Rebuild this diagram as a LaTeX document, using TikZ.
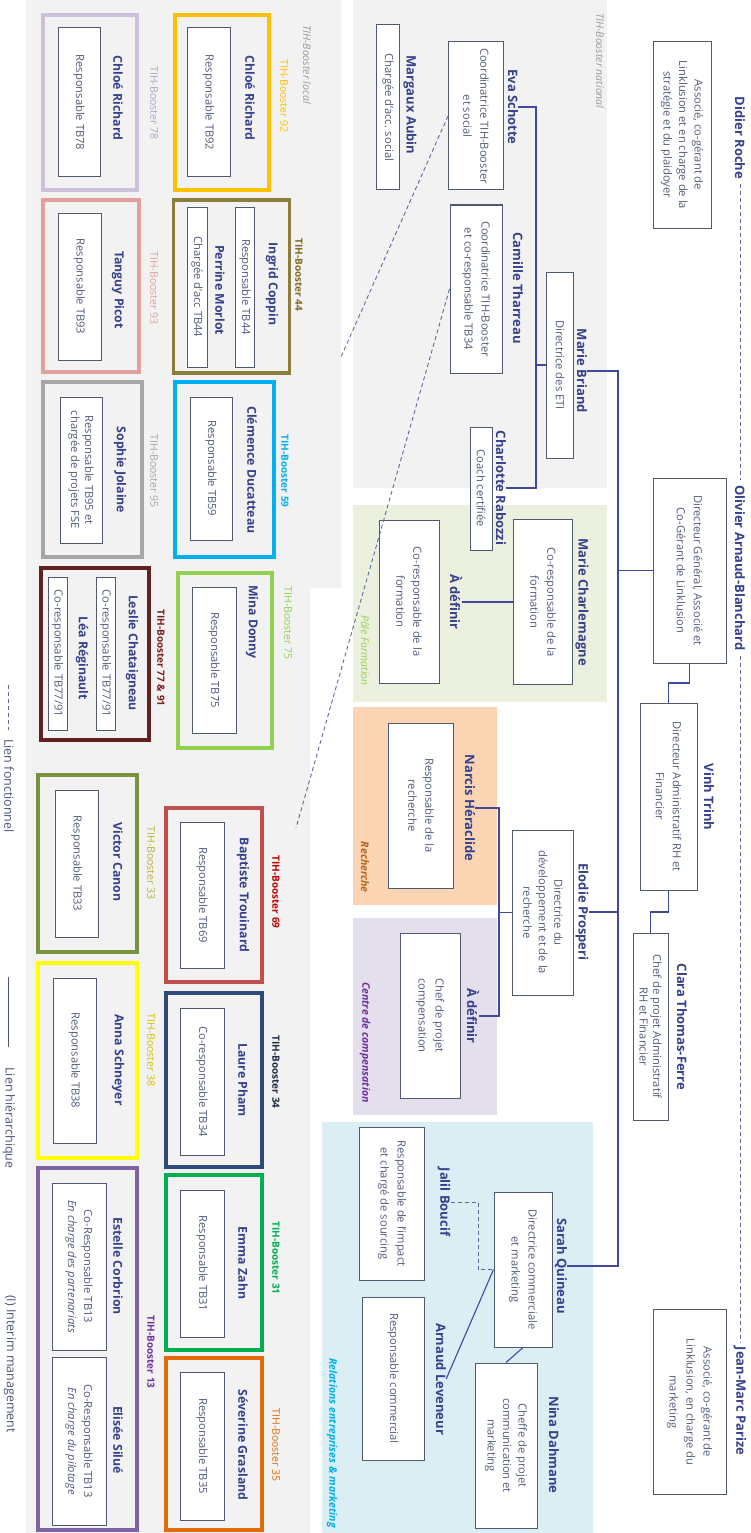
\documentclass[tikz,border=0pt]{standalone}
\usepackage{fontspec}
\setmainfont{Open Sans}
\definecolor{namec}{HTML}{35418C}
\definecolor{bodyc}{HTML}{525C7C}
\definecolor{boxc}{HTML}{4F5A70}
\definecolor{linec}{HTML}{3F4A9E}
\definecolor{dashc}{HTML}{5A6A9E}
\definecolor{legc}{HTML}{4A5578}
\definecolor{greyl}{HTML}{9A9A9A}
\definecolor{bggrey}{HTML}{F2F2F2}
\definecolor{bggreen}{HTML}{EBF1DE}
\definecolor{bgorange}{HTML}{FBD4B4}
\definecolor{bglav}{HTML}{E4DFEC}
\definecolor{bgblue}{HTML}{DAEEF3}
\definecolor{c92}{HTML}{FFC000}
\definecolor{c44}{HTML}{8B7D3A}
\definecolor{l44}{HTML}{7F6A1E}
\definecolor{c59}{HTML}{00B0F0}
\definecolor{c75}{HTML}{92D050}
\definecolor{c78}{HTML}{CCC0DA}
\definecolor{l78}{HTML}{B3A2C7}
\definecolor{c93}{HTML}{E0A09C}
\definecolor{c95}{HTML}{A6A6A6}
\definecolor{c7791}{HTML}{5E2222}
\definecolor{l7791}{HTML}{7A2020}
\definecolor{c69}{HTML}{C0504D}
\definecolor{l69}{HTML}{C00000}
\definecolor{c34}{HTML}{2F4B7C}
\definecolor{l34}{HTML}{1F2A44}
\definecolor{c31}{HTML}{00B050}
\definecolor{c35}{HTML}{E36C0A}
\definecolor{c33}{HTML}{77933C}
\definecolor{l33}{HTML}{B7B53A}
\definecolor{c38}{HTML}{FFFF00}
\definecolor{l38}{HTML}{D6C000}
\definecolor{c13}{HTML}{8064A2}
\definecolor{l13}{HTML}{7030A0}
\definecolor{lrech}{HTML}{B8651B}
\tikzset{
 nm/.style={font=\bfseries\fontsize{13}{15}\selectfont, text=namec, inner sep=0pt},
 nms/.style={font=\bfseries\fontsize{12.3}{14}\selectfont, text=namec, inner sep=0pt},
 bx/.style={draw=boxc, line width=1pt, fill=white, inner sep=0pt, align=center, text=bodyc, font=\fontsize{11.2}{17}\selectfont},
 fr/.style={draw=#1, line width=3.8pt, inner sep=0pt},
 lab/.style={font=\fontsize{10.5}{12}\selectfont, text=#1, inner sep=0pt},
 labb/.style={font=\bfseries\fontsize{10}{12}\selectfont, text=#1, inner sep=0pt},
 rlab/.style={font=\itshape\fontsize{10.5}{12}\selectfont, text=#1, inner sep=0pt},
 rlabb/.style={font=\bfseries\itshape\fontsize{10.5}{12}\selectfont, text=#1, inner sep=0pt},
 hl/.style={draw=linec, line width=1.1pt},
 dl/.style={draw=dashc, line width=0.9pt, dash pattern=on 4pt off 3pt},
 leg/.style={font=\fontsize{12.5}{14}\selectfont, text=legc, inner sep=0pt},
}
\begin{document}
\begin{tikzpicture}[x=1pt,y=1pt]
\useasboundingbox (0,0) rectangle (751,-1533);
\begin{scope}[rotate=-90, transform shape]
% ---------- backgrounds (Y = image y, X = image x)
\fill[bggrey] (0,26) -- (0,341) -- (588,341) -- (588,310) -- (1533,310) -- (1533,26) -- cycle;
\fill[bggrey] (0,353) rectangle (488,607);
\fill[bggreen] (505,353) rectangle (702,607);
\fill[bgorange] (707,353) rectangle (905,497);
\fill[bglav] (918,353) rectangle (1115,497);
\fill[bgblue] (1122,322) rectangle (1533,593);
\node[rlab=greyl, anchor=west] (tnat) at (13,600) {TIH-Booster national};
\node[rlab=greyl, anchor=west] (tloc) at (25,307) {TIH-Booster local};
\node[rlab=c75, anchor=east] (tpole) at (686,365) {Pôle Formation};
\node[rlabb=lrech, anchor=east] (trech) at (893,365) {Recherche};
\node[rlabb=l13, anchor=east] (tcomp) at (1103,365) {Centre de compensation};
\node[rlabb=c59, anchor=east] (trel) at (1528,332) {Relations entreprises \& marketing};
% ---------- top management
\node[nm] (didier) at (138,740) {Didier Roche};
\node[bx, minimum width=186pt, minimum height=58pt, font=\fontsize{11.2}{15.5}\selectfont] (didbox) at (135,682) {Associé, co-gérant de\\Linklusion et en charge de la\\stratégie et du plaidoyer};
\node[nm] (olivier) at (568,740) {Olivier Arnaud-Blanchard};
\node[bx, minimum width=185pt, minimum height=73pt] (obox) at (570.5,689.5) {Directeur Général, Associé et\\Co-Gérant de Linklusion};
\node[nm] (jeanmarc) at (1401,740) {Jean-Marc Parize};
\node[bx, minimum width=185pt, minimum height=73pt] (jmbox) at (1402,689.5) {Associé, co-gérant de\\Linklusion, en charge du\\marketing};
\node[nm] (vinh) at (797,709) {Vinh Trinh};
\node[bx, minimum width=187pt, minimum height=57pt] (vbox) at (796.5,668.5) {Directeur Administratif RH et\\Financier};
\node[nm] (clara) at (1027,682) {Clara Thomas-Ferre};
\node[bx, minimum width=187pt, minimum height=35pt, font=\fontsize{11.2}{13.5}\selectfont] (cbox) at (1026.5,650.5) {Chef de projet Administratif\\RH et Financier};
% ---------- national
\node[nm] (eva) at (107,513) {Eva Schotte};
\node[bx, minimum width=148pt, minimum height=55pt] (evabox) at (116,476) {Coordinatrice TIH-Booster\\et social};
\node[nm] (margaux) at (105,410) {Margaux Aubin};
\node[bx, minimum width=165pt, minimum height=23pt] (mbox) at (107.5,388) {Chargée d'acc. social};
\node[nm] (camille) at (288,518) {Camille Tharreau};
\node[bx, minimum width=168pt, minimum height=52pt] (cambox) at (289,476) {Coordinatrice TIH-Booster\\et co-responsable TB34};
\node[nm] (briand) at (371,582) {Marie Briand};
\node[bx, minimum width=186pt, minimum height=27pt] (bbox) at (365,560) {Directrice des ETI};
\node[nm] (charlotte) at (488,501) {Charlotte Rabozzi};
\node[bx, minimum width=123pt, minimum height=22pt] (rabbox) at (488.5,481) {Coach certifiée};
% ---------- pole formation
\node[nm] (charlemagne) at (602,582) {Marie Charlemagne};
\node[bx, minimum width=165pt, minimum height=59pt] (chmbox) at (602,543) {Co-responsable de la\\formation};
\node[nm] (adef1) at (602,456) {À définir};
\node[bx, minimum width=163pt, minimum height=60pt] (adbox1) at (601.5,409) {Co-responsable de la\\formation};
% ---------- recherche / compensation
\node[nm] (elodie) at (912,582) {Elodie Prosperi};
\node[bx, minimum width=165pt, minimum height=61pt, font=\fontsize{11.2}{15.5}\selectfont] (elbox) at (912.5,543) {Directrice du\\développement et de la\\recherche};
\node[nm] (narcis) at (808,470) {Narcis Héraclide};
\node[bx, minimum width=165pt, minimum height=65pt] (narbox) at (805.5,421) {Responsable de la\\recherche};
\node[nm] (adef2) at (1016,473) {À définir};
\node[bx, minimum width=165pt, minimum height=60pt] (adbox2) at (1015.5,430) {Chef de projet\\compensation};
% ---------- relations
\node[nm] (sarah) at (1266,561) {Sarah Quineau};
\node[bx, minimum width=155pt, minimum height=58pt] (sbox) at (1269.5,523) {Directrice commerciale\\et marketing};
\node[nm] (jalil) at (1202,444) {Jalil Boucif};
\node[bx, minimum width=153pt, minimum height=65pt] (jbox) at (1203.5,392) {Responsable de l'impact\\et chargé de sourcing};
\node[nm] (arnaud) at (1379,441) {Arnaud Leveneur};
\node[bx, minimum width=163pt, minimum height=62pt] (abox) at (1378.5,393) {Responsable commercial};
\node[nm] (nina) at (1445,554) {Nina Dahmane};
\node[bx, minimum width=165pt, minimum height=62pt, font=\fontsize{11.2}{15.5}\selectfont] (ninabox) at (1445.5,506) {Cheffe de projet\\communication et\\marketing};
% ---------- local frames
\node[fr=c92, minimum width=175pt, minimum height=94pt] (f92) at (102.5,222) {};
\node[lab=c92] (l92) at (96,284) {TIH-Booster 92};
\node[nms] (n92) at (98,250) {Chloé Richard};
\node[bx, minimum width=149pt, minimum height=43pt] (b92) at (102.5,208.5) {Responsable TB92};

\node[fr=c44, minimum width=173pt, minimum height=116pt] (f44) at (286.5,231.5) {};
\node[labb=l44] (l44) at (275,299) {TIH-Booster 44};
\node[nms] (n44a) at (284,272) {Ingrid Coppin};
\node[bx, minimum width=160pt, minimum height=19pt] (b44a) at (287,245) {Responsable TB44};
\node[nms] (n44b) at (290,220) {Perrine Morlot};
\node[bx, minimum width=160pt, minimum height=20pt] (b44b) at (287,197) {Chargée d'acc TB44};

\node[fr=c59, minimum width=175pt, minimum height=99pt] (f59) at (469.5,224.5) {};
\node[labb=c59] (l59) at (471,285) {TIH-Booster 59};
\node[nms] (n59) at (470,252) {Clémence Ducatteau};
\node[bx, minimum width=143pt, minimum height=42pt] (b59) at (468.5,211) {Responsable TB59};

\node[fr=c75, minimum width=175pt, minimum height=94pt] (f75) at (660.5,225) {};
\node[lab=c75] (l75) at (623,288) {TIH-Booster 75};
\node[nms] (n75) at (622,252) {Mina Donny};
\node[bx, minimum width=146pt, minimum height=44pt] (b75) at (660,214) {Responsable TB75};

\node[fr=c78, minimum width=175pt, minimum height=94pt] (f78) at (102.5,90) {};
\node[lab=l78] (l78) at (103,154) {TIH-Booster 78};
\node[nms] (n78) at (98,118) {Chloé Richard};
\node[bx, minimum width=149pt, minimum height=42pt] (b78) at (102.5,79) {Responsable TB78};

\node[fr=c93, minimum width=172pt, minimum height=96pt] (f93) at (286,91) {};
\node[lab=c93] (l93) at (288,154) {TIH-Booster 93};
\node[nms] (n93) at (290,118) {Tanguy Picot};
\node[bx, minimum width=147pt, minimum height=43pt] (b93) at (286.5,79.5) {Responsable TB93};

\node[fr=c95, minimum width=175pt, minimum height=99pt] (f95) at (469.5,92.5) {};
\node[lab=c95] (l95) at (471,154) {TIH-Booster 95};
\node[nms] (n95) at (470,120) {Sophie Jolaine};
\node[bx, minimum width=146pt, minimum height=42pt, font=\fontsize{11.2}{14}\selectfont] (b95) at (470,81) {Responsable TB95 et\\chargée de projets FSE};

\node[fr=c7791, minimum width=172pt, minimum height=108pt] (f7791) at (654,95) {};
\node[labb=l7791] (l7791) at (658,161) {TIH-Booster 77 \& 91};
\node[nms] (n77a) at (653,132) {Leslie Chataigneau};
\node[bx, minimum width=153pt, minimum height=19pt] (b77a) at (653.5,105.5) {Co-responsable TB77/91};
\node[nms] (n77b) at (658,82) {Léa Réginault};
\node[bx, minimum width=153pt, minimum height=19pt] (b77b) at (653.5,57.5) {Co-responsable TB77/91};

\node[fr=c69, minimum width=174pt, minimum height=96pt] (f69) at (895,214) {};
\node[labb=l69] (l69) at (892,276) {TIH-Booster 69};
\node[nms] (n69) at (895,243) {Baptiste Trouinard};
\node[bx, minimum width=146pt, minimum height=44pt] (b69) at (895,202) {Responsable TB69};

\node[fr=c34, minimum width=174pt, minimum height=96pt] (f34) at (1080,214) {};
\node[labb=l34] (l34) at (1072,276) {TIH-Booster 34};
\node[nms] (n34) at (1080,243) {Laure Pham};
\node[bx, minimum width=147pt, minimum height=44pt] (b34) at (1081.5,202) {Co-responsable TB34};

\node[fr=c31, minimum width=175pt, minimum height=96pt] (f31) at (1262.5,214) {};
\node[labb=c31] (l31) at (1258,276) {TIH-Booster 31};
\node[nms] (n31) at (1263,243) {Emma Zahn};
\node[bx, minimum width=147pt, minimum height=44pt] (b31) at (1263.5,202) {Responsable TB31};

\node[fr=c35, minimum width=172pt, minimum height=96pt] (f35) at (1444,214) {};
\node[lab=c35] (l35) at (1445,276) {TIH-Booster 35};
\node[nms] (n35) at (1445,243) {Séverine Grasland};
\node[bx, minimum width=148pt, minimum height=44pt] (b35) at (1446,202) {Responsable TB35};

\node[fr=c33, minimum width=177pt, minimum height=99pt] (f33) at (863.5,87.5) {};
\node[lab=l33] (l33) at (863,151) {TIH-Booster 33};
\node[nms] (n33) at (862,118) {Victor Canon};
\node[bx, minimum width=147pt, minimum height=43pt] (b33) at (863.5,76.5) {Responsable TB33};

\node[fr=c38, minimum width=195pt, minimum height=99pt] (f38) at (1060.5,87.5) {};
\node[lab=l38] (l38) at (1050,151) {TIH-Booster 38};
\node[nms] (n38) at (1060,118) {Anna Schneyer};
\node[bx, minimum width=165pt, minimum height=43pt] (b38) at (1060.5,74.5) {Responsable TB38};

\node[fr=c13, minimum width=362pt, minimum height=99pt] (f13) at (1349,87.5) {};
\node[labb=l13] (l13) at (1352,151) {TIH-Booster 13};
\node[nms] (n13a) at (1266,118) {Estelle Corbrion};
\node[bx, minimum width=167pt, minimum height=54pt, font=\fontsize{11.2}{16}\selectfont] (b13a) at (1266.5,79) {Co-Responsable TB13\\\textit{En charge des partenariats}};
\node[nms] (n13b) at (1440,118) {Elisée Silué};
\node[bx, minimum width=168pt, minimum height=54pt, font=\fontsize{11.2}{16}\selectfont] (b13b) at (1441,79) {Co-Responsable TB13\\\textit{En charge du pilotage}};
% ---------- hierarchical connectors
\coordinate (tTop) at (371,618);
\coordinate (tOl) at (570.5,618);
\coordinate (tEl) at (912,618);
\coordinate (tBot) at (1266,618);
\draw[hl, line width=1.6pt] (briand.north) -- (tTop) -- (tBot) -- (sarah.north);
\draw[hl] (obox.south) -- (tOl);
\draw[hl] (elodie.north) -- (tEl);
\coordinate (ov1) at (683,689.5);
\coordinate (ov2) at (683,668.5);
\draw[hl] (obox.east) -- (ov1) -- (ov2) -- (vbox.west);
\coordinate (vc1) at (912,668.5);
\coordinate (vc2) at (912,650.5);
\draw[hl] (vbox.east) -- (vc1) -- (vc2) -- (cbox.west);
\coordinate (bj) at (365,536);
\coordinate (bt) at (107,536);
\coordinate (bb) at (488,536);
\draw[hl] (bbox.south) -- (bj);
\draw[hl] (eva.north) -- (bt) -- (bb) -- (charlotte.north);
\draw[hl] (chmbox.south) -- (adef1.north);
\coordinate (ej) at (912.5,499);
\coordinate (et) at (808,499);
\coordinate (eb) at (1016,499);
\draw[hl] (elbox.south) -- (ej);
\draw[hl] (narcis.north) -- (et) -- (eb) -- (adef2.north);
\draw[hl] (sbox.south) -- (arnaud.north);
\draw[hl] (sbox.east) -- (ninabox.west);
% ---------- functional (dashed) connectors
\coordinate (jd1) at (1202,478);
\coordinate (jd2) at (1269.5,478);
\draw[dl] (jalil.north) -- (jd1) -- (jd2) -- (sbox.south);
\draw[dl, shorten <=5pt, shorten >=5pt] (didier.east) -- (olivier.west);
\draw[dl, shorten <=5pt, shorten >=5pt] (olivier.east) -- (jeanmarc.west);
\coordinate (fe1) at (357,341);
\draw[dl] (evabox.south) -- (fe1);
\coordinate (fe2) at (828,296);
\draw[dl] (cambox.south) -- (fe2);
% ---------- legend
\coordinate (lga) at (685,8);
\coordinate (lgb) at (730,8);
\draw[dl] (lga) -- (lgb);
\node[leg] (lg1) at (786,9) {Lien fonctionnel};
\coordinate (lgc) at (977,8);
\coordinate (lgd) at (1047,8);
\draw[hl, draw=legc, line width=0.9pt] (lgc) -- (lgd);
\node[leg] (lg2) at (1118,9) {Lien hiérarchique};
\node[leg] (lg3) at (1364,10) {(I) Interim management};
\end{scope}
\end{tikzpicture}
\end{document}
